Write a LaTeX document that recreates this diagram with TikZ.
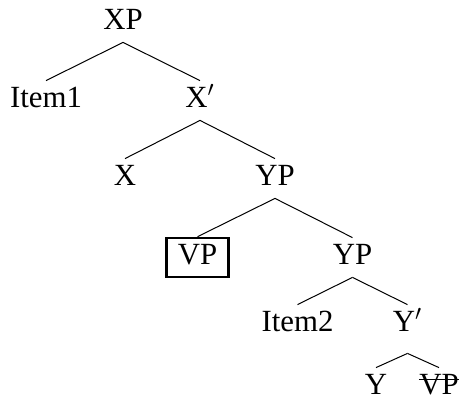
\documentclass[tikz,border=0pt]{standalone}
\usepackage{fontspec}
\setmainfont{Liberation Serif}
\tikzset{syn/.style={every node/.style={inner xsep=2.5pt,inner ysep=2.5pt,text height=10.5pt,text depth=4pt,font=\fontsize{15.4}{18}\selectfont},edge from parent/.style={draw,line width=.5pt},parent anchor=south,child anchor=north}, moved/.style={draw,line width=1.3pt,inner xsep=5.6pt}}

\begin{document}
\begin{tikzpicture}[syn,level 1/.style={level distance=39pt,sibling distance=77pt},level 2/.style={level distance=39pt,sibling distance=75pt},level 3/.style={level distance=39.5pt,sibling distance=77.5pt},level 4/.style={level distance=33.5pt,sibling distance=55pt},level 5/.style={level distance=31.5pt,sibling distance=31.5pt,edge from parent path={([yshift=-4.5pt]\tikzparentnode.south) -- (\tikzchildnode.north)}}]
\useasboundingbox (-61.5pt,11.25pt) rectangle (170pt,-187.75pt);
\node (xp) {XP}
 child {node (item1) {Item1}}
 child {node (xbar) {X$'$}
 child {node (x) {X}}
 child {node (yp) {YP}
 child {node[moved] (vp) {VP}}
 child {node (yp2) {YP}
 child {node (item2) {Item2}}
 child {node (ybar) {Y$'$}
 child {node (y) {Y}}
 child {node (vp2) {VP}}}}}};
% strike through the lower copy
\draw[line width=.8pt] ([xshift=2.5pt,yshift=7.3pt]vp2.base west) -- ([xshift=-2.5pt,yshift=7.3pt]vp2.base east);
\end{tikzpicture}
\end{document}
